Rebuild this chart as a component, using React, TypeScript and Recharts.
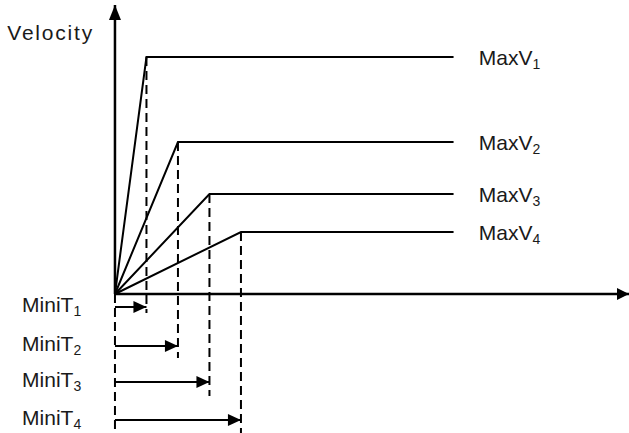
import React from "react";
import { ComposedChart, Line, Scatter, XAxis, YAxis } from "recharts";

// time axis: MiniT_i reached at these times
const subscripts = ["1", "2", "3", "4"];
const miniT = [1, 2, 3, 4];
const maxV = [23.7, 15.2, 10.0, 6.2];
const plateauEnd = 10.75;
const maxVLabelT = 11.55;

// rows under the time axis where the MiniT arrows sit
const arrowRowV = [-1.3, -5.2, -8.8, -12.6];
const dashBottomV = [-1.9, -6.4, -10.2, -13.9];
const miniTLabelT = -2.95;

const tDomain = [-3.65, 16.32];
const vDomain = [-13.9, 29.4];
const xAxisEnd = 16.32;
const yAxisTop = 28.9;
const velocityLabel = { t: -3.42, v: 26.2, text: "Velocity" };

const FONT = "'Liberation Sans', Arial, sans-serif";

const arrowDot =
  (dir: "up" | "right", last: number, len: number, half: number) =>
  (props: any) => {
    const { cx, cy, index } = props;
    if (index !== last || cx == null) return <g key={`d${index}`} />;
    const pts =
      dir === "right"
        ? `${cx},${cy} ${cx - len},${cy - half} ${cx - len},${cy + half}`
        : `${cx},${cy} ${cx - half},${cy + len} ${cx + half},${cy + len}`;
    return <polygon key={`d${index}`} points={pts} fill="#000" stroke="none" />;
  };

const labelPoints = [
  ...subscripts.map((s, i) => ({ t: maxVLabelT, v: maxV[i], text: "MaxV", sub: s, spacing: 0 })),
  ...subscripts.map((s, i) => ({ t: miniTLabelT, v: arrowRowV[i] + 0.3, text: "MiniT", sub: s, spacing: 0 })),
  { ...velocityLabel, sub: "", spacing: 1.8 },
];

const renderLabel = (props: any) => {
  const { cx, cy, payload } = props;
  return (
    <text
      x={cx}
      y={cy + 8}
      fontFamily={FONT}
      fontSize={21}
      fill="#1a1a1a"
      letterSpacing={payload.spacing}
    >
      <tspan>{payload.text}</tspan>
      {payload.sub && (
        <tspan fontSize={14} dy={4}>
          {payload.sub}
        </tspan>
      )}
    </text>
  );
};

export default function App() {
  return (
    <div style={{ position: "absolute", left: 0, top: 0, background: "#fff" }}>
      <ComposedChart width={629} height={433} margin={{ top: 0, right: 0, bottom: 0, left: 0 }}>
        <XAxis type="number" dataKey="t" domain={tDomain} allowDataOverflow hide />
        <YAxis type="number" dataKey="v" domain={vDomain} allowDataOverflow hide />

        {/* axes */}
        <Line
          data={[{ t: 0, v: 0 }, { t: 0, v: yAxisTop }]}
          dataKey="v"
          stroke="#000"
          strokeWidth={2.5}
          dot={arrowDot("up", 1, 15, 6)}
          activeDot={false}
          isAnimationActive={false}
        />
        <Line
          data={[{ t: 0, v: 0 }, { t: xAxisEnd, v: 0 }]}
          dataKey="v"
          stroke="#000"
          strokeWidth={2.5}
          dot={arrowDot("right", 1, 12, 6)}
          activeDot={false}
          isAnimationActive={false}
        />
        <Line
          data={[{ t: 0, v: 0 }, { t: 0, v: vDomain[0] }]}
          dataKey="v"
          stroke="#000"
          strokeWidth={2}
          strokeDasharray="9 5"
          dot={false}
          activeDot={false}
          isAnimationActive={false}
        />

        {/* velocity profiles */}
        {miniT.map((T, i) => (
          <Line
            key={`p${i}`}
            data={[
              { t: 0, v: 0 },
              { t: T, v: maxV[i] },
              { t: plateauEnd, v: maxV[i] },
            ]}
            dataKey="v"
            type="linear"
            stroke="#000"
            strokeWidth={2}
            dot={false}
            activeDot={false}
            isAnimationActive={false}
          />
        ))}

        {/* dashed drop lines */}
        {miniT.map((T, i) => (
          <Line
            key={`d${i}`}
            data={[
              { t: T, v: maxV[i] },
              { t: T, v: dashBottomV[i] },
            ]}
            dataKey="v"
            stroke="#000"
            strokeWidth={2}
            strokeDasharray="9 5"
            dot={false}
            activeDot={false}
            isAnimationActive={false}
          />
        ))}

        {/* MiniT arrows */}
        {miniT.map((T, i) => (
          <Line
            key={`a${i}`}
            data={[
              { t: 0, v: arrowRowV[i] },
              { t: T, v: arrowRowV[i] },
            ]}
            dataKey="v"
            stroke="#000"
            strokeWidth={2}
            dot={arrowDot("right", 1, 13, 6)}
            activeDot={false}
            isAnimationActive={false}
          />
        ))}

        <Scatter data={labelPoints} dataKey="v" shape={renderLabel} isAnimationActive={false} />
      </ComposedChart>
    </div>
  );
}
